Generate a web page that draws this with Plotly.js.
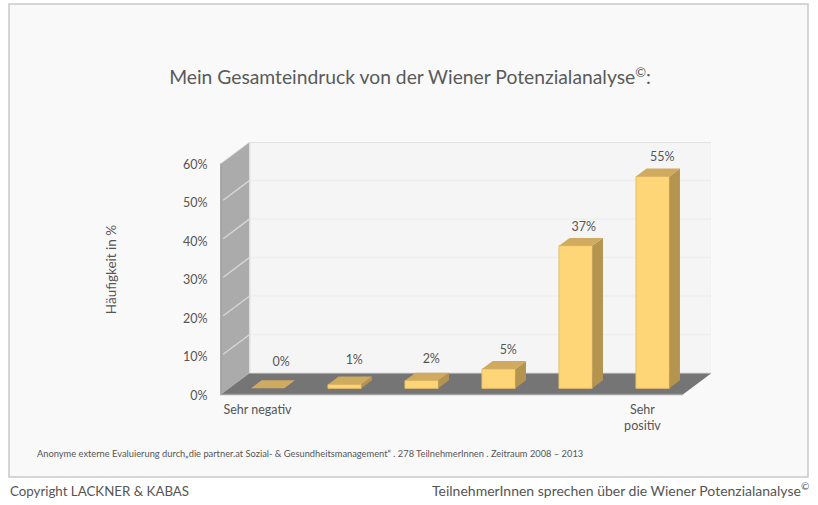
<!DOCTYPE html>
<html>
<head>
<meta charset="utf-8">
<script src="https://cdn.plot.ly/plotly-3.0.1.min.js"></script>
<style>html,body{margin:0;padding:0;background:#fff}#chart{width:818px;height:505px}</style>
</head>
<body>
<div id="chart"></div>
<script>
// ---- data ----
const categories = ['Sehr negativ', '', '', '', '', 'Sehr<br>positiv'];
const values = [0, 1, 2, 5, 37, 55];
const valueLabels = ['0%', '1%', '2%', '5%', '37%', '55%'];
const yTicks = [0, 10, 20, 30, 40, 50, 60];
const yTickLabels = ['0%', '10%', '20%', '30%', '40%', '50%', '60%'];

// ---- fake-3D geometry, expressed in axis units ----
const indices = categories.map((_, i) => i);
const labelled = indices.filter(i => categories[i] !== '');
const barW = 0.433;
const depthX = 0.374, depthY = 5.58;      // shift from front plane to back wall
const barFront = 0.287, barBack = 0.657;  // depth fractions of the bars
const spanX = [-0.5, 5.5], spanY = [0, 60];
const labelLift = [1.3, 0.9, 0.2, -0.5, -0.5, -0.4];
const labelShift = [0.05, 0, 0, 0, -0.02, 0];

// page pixels -> paper fractions (plot area 219..711 by 142..397)
const M = {l: 219, r: 107, t: 142, b: 108};
const plotW = 818 - M.l - M.r, plotH = 505 - M.t - M.b;
const pxX = px => (px - M.l) / plotW;
const pxY = py => (505 - M.b - py) / plotH;

// project (x, v) at depth d (0 = front, 1 = back wall) to the axis coordinates
const P = (x, v, d) => [x + (d - barFront) * depthX, v + (d - barFront) * depthY];
const path = pts => 'M' + pts.map(p => p[0] + ' ' + p[1]).join(' L') + ' Z';
const line = pts => 'M' + pts.map(p => p[0] + ' ' + p[1]).join(' L');
const polyShape = (pts, fill) => ({type: 'path', xref: 'x', yref: 'y', layer: 'below', path: path(pts), fillcolor: fill, line: {width: 0}});
const lineShape = (pts, color, width) => ({type: 'path', xref: 'x', yref: 'y', layer: 'below', path: line(pts), line: {color: color, width: width}});

const [x0, x1] = spanX, [y0, y1] = spanY;
const shapes = [
  // outer frame
  {type: 'rect', xref: 'paper', yref: 'paper', layer: 'below', x0: pxX(9), x1: pxX(808),
   y0: pxY(477), y1: pxY(4), fillcolor: '#f9f9f9', line: {color: '#c9c9c9', width: 1.5}},
  polyShape([P(x0, y0, 1), P(x1, y0, 1), P(x1, y1, 1), P(x0, y1, 1)], '#f5f5f5'),
  polyShape([P(x0, y0, 0), P(x0, y0, 1), P(x0, y1, 1), P(x0, y1, 0)], '#ababab'),
  polyShape([P(x0, y0, 0), P(x1, y0, 0), P(x1, y0, 1), P(x0, y0, 1)], '#757575'),
  lineShape([P(x0, y1, 1), P(x1, y1, 1), P(x1, y0, 1)], '#dcdcdc', 1.5),
  lineShape([P(x0, y1, 1), P(x0, y0, 1)], '#dddddd', 1.5),
  lineShape([P(x0, y1, 0), P(x0, y0, 0), P(x1, y0, 0)], '#a0a0a0', 1.5),
  lineShape([P(x0, y1, 0), P(x0, y1, 1)], '#dddddd', 1)
];
yTicks.slice(1, -1).forEach(v => {
  shapes.push(lineShape([P(x0, v, 1), P(x1, v, 1)], '#eeeeee', 1.5));
  shapes.push(lineShape([P(x0, v, 0.08), P(x0, v, 1)], '#d6d6d6', 1.5));
});
shapes.push(lineShape([P(x0, y0, 1), P(x1, y0, 1)], '#dedede', 1));

const faceTrace = (xs, ys, color) => ({
  type: 'scatter', mode: 'none', x: xs, y: ys, fill: 'toself', fillcolor: color, hoverinfo: 'skip', showlegend: false
});
const topX = [], topY = [], sideX = [], sideY = [];
indices.forEach(i => {
  const l = i - barW / 2, r = i + barW / 2, v = values[i];
  [P(l, v, barFront), P(r, v, barFront), P(r, v, barBack), P(l, v, barBack), P(l, v, barFront)]
    .forEach(p => { topX.push(p[0]); topY.push(p[1]); });
  topX.push(null); topY.push(null);
  [P(r, 0, barFront), P(r, 0, barBack), P(r, v, barBack), P(r, v, barFront), P(r, 0, barFront)]
    .forEach(p => { sideX.push(p[0]); sideY.push(p[1]); });
  sideX.push(null); sideY.push(null);
});

const font = 'Lato, sans-serif';
const copyright = size => '<span style="font-size:' + size + 'px;baseline-shift:' + Math.round(size * 0.55) + 'px">©</span>';
const traces = [
  {type: 'bar', x: indices, y: values, width: barW, hoverinfo: 'skip', showlegend: false,
   marker: {color: '#ffd677', line: {color: '#e9bf68', width: values.map(v => v > 0 ? 1 : 0)}}},
  faceTrace(sideX, sideY, '#b59450'),
  faceTrace(topX, topY, '#cfaa5f'),
  {type: 'scatter', mode: 'text', x: indices.map(i => i + 0.125 + labelShift[i]),
   y: values.map((v, i) => v + 5.2 + labelLift[i]), text: valueLabels, textposition: 'middle center',
   cliponaxis: false, hoverinfo: 'skip', showlegend: false,
   textfont: {family: font, size: 12.5, color: '#555'}}
];

const layout = {
  width: 818, height: 505, autosize: false, showlegend: false, hovermode: false, bargap: 0,
  paper_bgcolor: '#ffffff', plot_bgcolor: 'rgba(0,0,0,0)',
  margin: {l: M.l, r: M.r, t: M.t, b: M.b, pad: 0},
  font: {family: font, color: '#555'},
  title: {text: 'Mein Gesamteindruck von der Wiener Potenzialanalyse' + copyright(13) + ':',
          font: {family: font, size: 19.3, color: '#5a5a5a'}, x: 410 / 818, xanchor: 'center', y: 1 - 77 / 505, yanchor: 'middle'},
  xaxis: {range: [-0.632, 5.758], tickmode: 'array', tickvals: labelled.map(i => P(i, 0, 0)[0] - 0.025), ticktext: labelled.map(i => categories[i]),
          ticks: 'outside', ticklen: 1, tickcolor: 'rgba(0,0,0,0)', showgrid: false, zeroline: false, showline: false,
          tickangle: 0, tickfont: {family: font, size: 12.5, color: '#555'}, fixedrange: true},
  yaxis: {range: [-2.26, 63.97], tickmode: 'array', tickvals: yTicks.map(v => P(0, v, 0)[1] - 0.25), ticktext: yTickLabels,
          ticks: 'outside', ticklen: 8, tickcolor: 'rgba(0,0,0,0)', showgrid: false, zeroline: false, showline: false,
          tickfont: {family: font, size: 12.5, color: '#555'}, fixedrange: true,
          title: {text: 'Häufigkeit in %', standoff: 63, font: {family: font, size: 13.5, color: '#555'}}},
  shapes: shapes,
  annotations: [
    {xref: 'paper', yref: 'paper', x: pxX(35), y: pxY(453), xanchor: 'left', yanchor: 'middle', showarrow: false,
     text: 'Anonyme externe Evaluierung durch„die partner.at Sozial- & Gesundheitsmanagement“ . 278 TeilnehmerInnen . Zeitraum 2008 – 2013',
     font: {family: font, size: 9.3, color: '#555'}},
    {xref: 'paper', yref: 'paper', x: pxX(8), y: pxY(491), xanchor: 'left', yanchor: 'middle', showarrow: false,
     text: 'Copyright LACKNER & KABAS', font: {family: font, size: 13.3, color: '#555'}},
    {xref: 'paper', yref: 'paper', x: pxX(811), y: pxY(489), xanchor: 'right', yanchor: 'middle', showarrow: false,
     text: 'TeilnehmerInnen sprechen über die Wiener Potenzialanalyse' + copyright(10), font: {family: font, size: 14, color: '#555'}}
  ]
};
Plotly.newPlot('chart', traces, layout, {displayModeBar: false, staticPlot: true});
</script>
</body>
</html>
